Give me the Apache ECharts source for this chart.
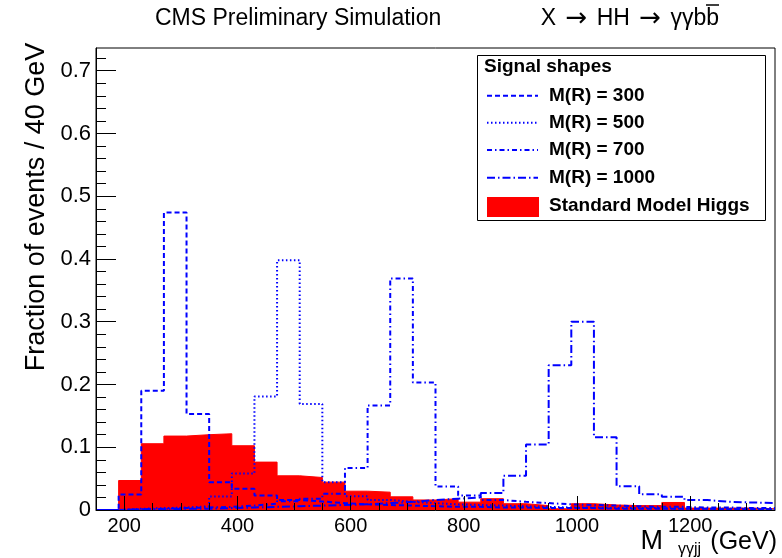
<!DOCTYPE html>
<html>
<head>
<meta charset="utf-8">
<script src="https://cdn.jsdelivr.net/npm/echarts@6/dist/echarts.min.js"></script>
<style>html,body{margin:0;padding:0;background:#fff;}#c{width:782px;height:558px;}</style>
</head>
<body>
<div id="c"></div>
<script>
// Bin lower edges (GeV), 40 GeV bins from 150 to 1350
var binEdges = [150,190,230,270,310,350,390,430,470,510,550,590,630,670,710,750,790,830,870,910,950,990,1030,1070,1110,1150,1190,1230,1270,1310,1350];
var smHiggs = [0,0.047,0.1056,0.1178,0.120,0.1215,0.1024,0.0763,0.0545,0.0518,0.0444,0.030,0.0284,0.021,0.016,0.018,0.0125,0.018,0.010,0.007,0.002,0.010,0.008,0.007,0.007,0.012,0.003,0.003,0.003,0.002];
var mR300 = [0,0.0247,0.19,0.474,0.153,0.0444,0.034,0.023,0.016,0.0135,0.011,0.009,0.008,0.007,0.006,0.005,0.005,0.004,0.004,0.003,0.003,0.003,0.002,0.002,0.002,0.002,0.002,0.001,0.001,0.001];
var mR500 = [0,0.002,0.003,0.004,0.006,0.0215,0.058,0.181,0.398,0.169,0.0444,0.022,0.016,0.013,0.011,0.009,0.008,0.007,0.006,0.005,0.004,0.004,0.003,0.003,0.003,0.002,0.002,0.002,0.002,0.001];
var mR700 = [0,0.001,0.002,0.003,0.004,0.005,0.007,0.010,0.014,0.018,0.026,0.067,0.1667,0.369,0.203,0.0375,0.023,0.016,0.013,0.011,0.009,0.008,0.007,0.006,0.005,0.005,0.004,0.004,0.003,0.003];
var mR1000 = [0,0.001,0.001,0.002,0.002,0.003,0.004,0.005,0.006,0.007,0.008,0.009,0.011,0.013,0.016,0.018,0.020,0.027,0.0545,0.1045,0.2305,0.30,0.116,0.038,0.025,0.021,0.016,0.013,0.012,0.011];
var xMajorTicks = [200,400,600,800,1000,1200];
var xMinorTicks = [250,300,350,450,500,550,650,700,750,850,900,950,1050,1100,1150,1250,1300];
var yMajorTicks = [0,0.1,0.2,0.3,0.4,0.5,0.6,0.7];
var yMinorTicks = [0.02,0.04,0.06,0.08,0.12,0.14,0.16,0.18,0.22,0.24,0.26,0.28,0.32,0.34,0.36,0.38,0.42,0.44,0.46,0.48,0.52,0.54,0.56,0.58,0.62,0.64,0.66,0.68,0.72];
var legendNames = ['M(R) = 300','M(R) = 500','M(R) = 700','M(R) = 1000','Standard Model Higgs'];

var FONT = 'Liberation Sans, Arial, Helvetica, sans-serif';
function hist(vals){
  var d = [];
  for (var i=0;i<vals.length;i++) d.push([binEdges[i], vals[i]]);
  d.push([binEdges[vals.length], vals[vals.length-1]]);
  return d;
}
var BLUE = '#0000ff';
var dashes = [[5,3],[1.5,2.5],[5,3,1.5,3],[8,3,1.5,3]];
var sigs = [mR300,mR500,mR700,mR1000];

var series = [{
  name: legendNames[4], type:'line', step:'end', data: hist(smHiggs), symbol:'none',
  lineStyle:{color:'#ff0000', width:1}, areaStyle:{color:'#ff0000', opacity:1}, z:1
}];
for (var k=0;k<4;k++){
  series.push({name: legendNames[k], type:'line', step:'end', data: hist(sigs[k]), symbol:'none',
    lineStyle:{color:BLUE, width:2, type:dashes[k], cap:'butt'}, z:3});
}

// legend graphics
var lg = [];
lg.push({type:'rect', shape:{x:477.5,y:55.5,width:288,height:165}, style:{fill:'#fff', stroke:'#000', lineWidth:1}, z:100});
lg.push({type:'text', x:484, y:67, style:{text:'Signal shapes', font:'bold 19px '+FONT, fill:'#000', verticalAlign:'middle'}, z:101});
var ly = [95.7,122.7,150,177.7];
for (var k=0;k<4;k++){
  lg.push({type:'line', shape:{x1:487,y1:ly[k],x2:538,y2:ly[k]}, style:{stroke:BLUE, lineWidth:2, lineDash:dashes[k]}, z:101});
  lg.push({type:'text', x:549, y:ly[k], style:{text:legendNames[k], font:'bold 19px '+FONT, fill:'#000', verticalAlign:'middle'}, z:101});
}
lg.push({type:'rect', shape:{x:487,y:197,width:52,height:20}, style:{fill:'#ff0000'}, z:101});
lg.push({type:'text', x:549, y:206, style:{text:legendNames[4], font:'bold 19px '+FONT, fill:'#000', verticalAlign:'middle'}, z:101});

// titles
lg.push({type:'text', x:155, y:19, style:{text:'CMS Preliminary Simulation', font:'23px '+FONT, fill:'#000', verticalAlign:'middle'}, z:101});
lg.push({type:'text', x:719, y:19, style:{
  text:'{a|X }{r|\u2192}{a| HH }{r|\u2192}{a| \u03b3\u03b3bb}',
  align:'right', verticalAlign:'middle',
  rich:{a:{font:'23px '+FONT, fill:'#000'}, r:{font:'26px DejaVu Sans', fill:'#000', padding:[0,3,0,3]}}
}, z:101});
lg.push({type:'line', shape:{x1:706,y1:5,x2:719,y2:5}, style:{stroke:'#000', lineWidth:1.5}, z:101});
// axis titles
lg.push({type:'text', x:777, y:542, style:{text:'(GeV)', font:'25px '+FONT, fill:'#000', verticalAlign:'middle', align:'right'}, z:101});
lg.push({type:'text', x:701, y:550, style:{text:'\u03b3\u03b3jj', font:'16px '+FONT, fill:'#000', verticalAlign:'middle', align:'right'}, z:101});
lg.push({type:'text', x:663, y:542, style:{text:'M', font:'27px '+FONT, fill:'#000', verticalAlign:'middle', align:'right'}, z:101});
lg.push({type:'text', x:37, y:207, rotation:Math.PI/2, style:{text:'Fraction of events / 40 GeV', font:'27px '+FONT, fill:'#000', verticalAlign:'middle', align:'center'}, z:101});

var chart = echarts.init(document.getElementById('c'), null, {renderer:'canvas'});
chart.setOption({
  animation:false,
  backgroundColor:'#fff',
  grid:{left:96, right:7, top:48, bottom:48, show:true, borderColor:'#000', borderWidth:1, backgroundColor:'rgba(0,0,0,0)'},
  xAxis:[{
    type:'value', min:150, max:1350, z:10,
    axisLine:{show:true, lineStyle:{color:'#000', width:1}},
    axisTick:{show:true, inside:true, length:14, customValues:xMajorTicks, lineStyle:{color:'#000', width:1}},
    axisLabel:{customValues:xMajorTicks, fontSize:20, color:'#000', fontFamily:FONT, margin:6,
      formatter:function(v){ return String(v); }},
    splitLine:{show:false}
  },{
    type:'value', min:150, max:1350, position:'bottom', z:10,
    axisLine:{show:false},
    axisTick:{show:true, inside:true, length:7, customValues:xMinorTicks, lineStyle:{color:'#000', width:1}},
    axisLabel:{show:false}, splitLine:{show:false}
  }],
  yAxis:[{
    type:'value', min:0, max:0.7362, z:10,
    axisLine:{show:true, lineStyle:{color:'#000', width:1}},
    axisTick:{show:true, inside:true, length:20, customValues:yMajorTicks, lineStyle:{color:'#000', width:1}},
    axisLabel:{customValues:yMajorTicks, fontSize:22, color:'#000', fontFamily:FONT, margin:5,
      formatter:function(v){ return v===0 ? '0' : v.toFixed(1); }},
    splitLine:{show:false}
  },{
    type:'value', min:0, max:0.7362, position:'left', z:10,
    axisLine:{show:false},
    axisTick:{show:true, inside:true, length:10, customValues:yMinorTicks, lineStyle:{color:'#000', width:1}},
    axisLabel:{show:false}, splitLine:{show:false}
  }],
  series: series,
  graphic: lg
});
</script>
</body>
</html>
